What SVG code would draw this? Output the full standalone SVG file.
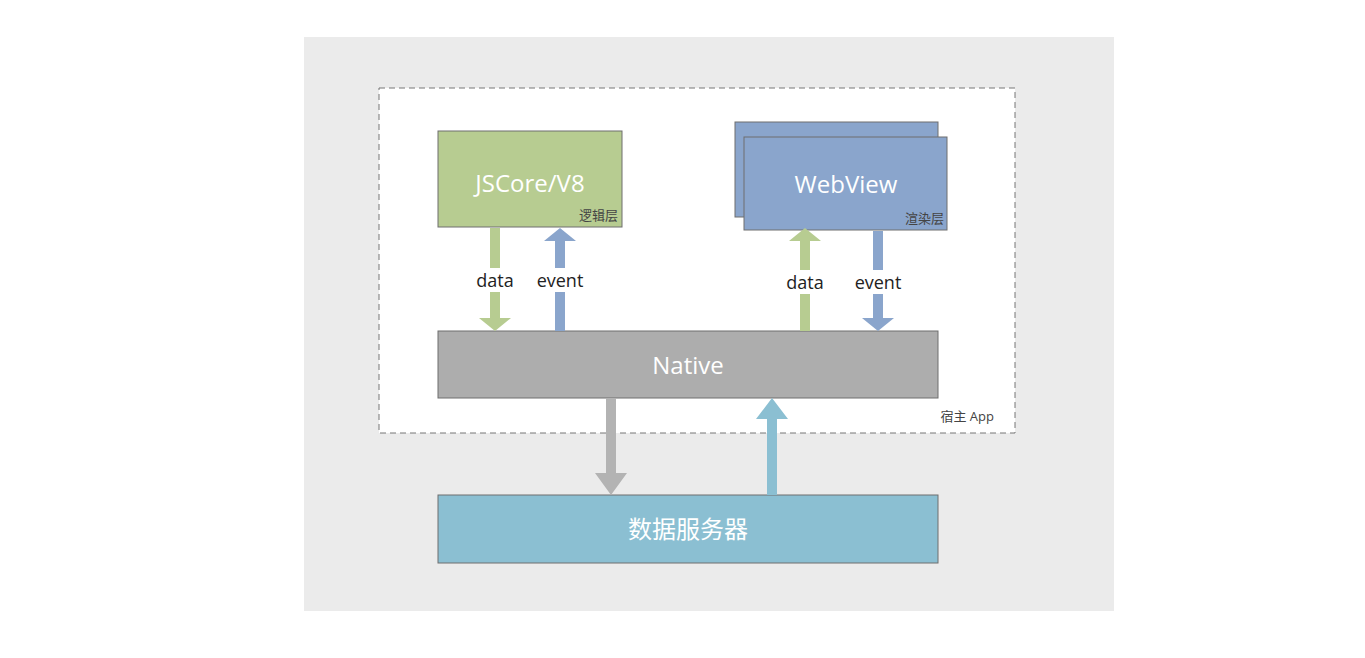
<svg xmlns="http://www.w3.org/2000/svg" width="1365" height="658" viewBox="0 0 1365 658">
<style>
.box{stroke:#6e6e6e;stroke-width:1}
.big{font-family:"Open Sans","Noto Sans CJK SC",sans-serif;font-size:24px;fill:#fff;text-anchor:middle}
.sm{font-family:"Open Sans","Noto Sans CJK SC",sans-serif;font-size:13px;fill:#444;text-anchor:end}
.lbl{font-family:"Open Sans",sans-serif;font-size:18px;fill:#222;text-anchor:middle}
</style>
<rect x="0" y="0" width="1365" height="658" fill="#fff"/>
<rect x="304" y="37" width="810" height="574" fill="#ebebeb"/>
<g id="host"><rect x="379" y="88" width="636" height="345" fill="#fff" stroke="#777" stroke-dasharray="6,4"/>
<text class="sm" x="994" y="421">宿主 App</text></g>
<g id="jscore"><rect class="box" x="438" y="131" width="184" height="96" fill="#b7cc91"/>
<text class="big" x="530" y="192">JSCore/V8</text><text class="sm" x="618" y="220">逻辑层</text></g>
<g id="webview"><rect class="box" x="735" y="122" width="203" height="95" fill="#8aa5cc"/>
<rect class="box" x="744" y="137" width="203" height="93" fill="#8aa5cc"/>
<text class="big" x="846" y="193">WebView</text><text class="sm" x="944" y="223">渲染层</text></g>
<g id="native"><rect class="box" x="438" y="331" width="500" height="67" fill="#adadad"/>
<text class="big" x="688" y="374">Native</text></g>
<g id="server"><rect class="box" x="438" y="495" width="500" height="68" fill="#8bbfd2"/>
<text class="big" x="688" y="538">数据服务器</text></g>
<g id="connectors">
<path d="M490 228h10v90h11l-16 13l-16-13h11z" fill="#b7cc91"/>
<path d="M555 331h10v-90h11l-16-13l-16 13h11z" fill="#8aa5cc"/>
<path d="M800 331h10v-90h11l-16-13l-16 13h11z" fill="#b7cc91"/>
<path d="M873 231h10v87h11l-16 13l-16-13h11z" fill="#8aa5cc"/>
<path d="M606 398h10v75h11l-16 22l-16-22h11z" fill="#b3b3b3"/>
<path d="M767 495h10v-76h11l-16-21l-16 21h11z" fill="#8bbfd2"/>
<rect x="470" y="268" width="50" height="24" fill="#fff"/>
<rect x="530" y="268" width="60" height="24" fill="#fff"/>
<rect x="780" y="270" width="50" height="24" fill="#fff"/>
<rect x="848" y="270" width="60" height="24" fill="#fff"/>
<text class="lbl" x="495" y="287">data</text>
<text class="lbl" x="560" y="287">event</text>
<text class="lbl" x="805" y="289">data</text>
<text class="lbl" x="878" y="289">event</text>
</g>
</svg>
